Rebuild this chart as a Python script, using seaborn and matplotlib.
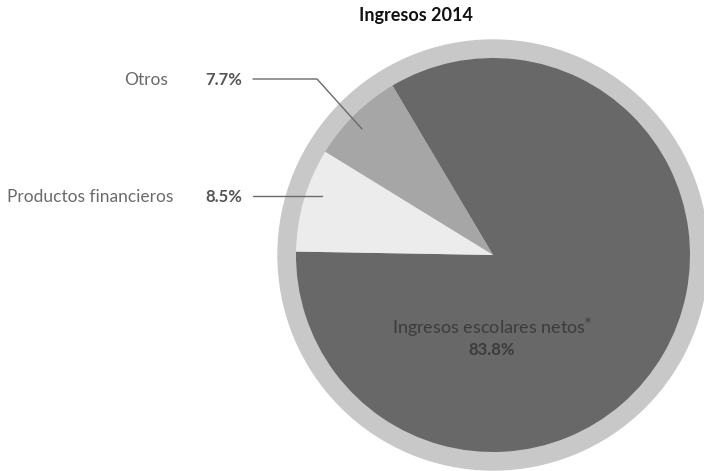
import matplotlib
matplotlib.use("Agg")
import matplotlib.pyplot as plt
import seaborn as sns
from matplotlib.patches import Circle

# datos
categorias = ["Ingresos escolares netos", "Otros", "Productos financieros"]
porcentajes = [83.8, 7.7, 8.5]
etiquetas_pct = ["83.8%", "7.7%", "8.5%"]
colores = ["#686868", "#a6a6a6", "#ececec"]
titulo = "Ingresos 2014"

sns.set_style("white")
plt.rcParams['font.family'] = ['Lato', 'DejaVu Sans']

W, H = 704, 471
fig = plt.figure(figsize=(W / 100, H / 100), dpi=100)
ax = fig.add_axes([0, 0, 1, 1])


def yy(y):
    # coordenadas de pantalla (y hacia abajo) -> ejes
    return H - y


cx, cy = 493, yy(255)

# anillo exterior
ax.add_patch(Circle((cx, cy), 215, color="#c8c8c8", zorder=0))

# pastel
ax.pie(porcentajes, colors=colores, startangle=179, counterclock=True,
       radius=197, center=(cx, cy), frame=True,
       wedgeprops=dict(linewidth=0))
ax.set_xlim(0, W)
ax.set_ylim(0, H)
ax.set_aspect('equal')
ax.axis('off')

# titulo
ax.text(416, yy(16), titulo, ha='center', va='center', fontsize=13,
        fontweight='bold', color='#111111')

# etiquetas exteriores
gris = '#6a6a6a'
ax.text(168, yy(80), categorias[1], ha='right', va='center', fontsize=12.5,
        fontweight='normal', color=gris)
ax.text(242, yy(80), etiquetas_pct[1], ha='right', va='center', fontsize=12,
        fontweight='bold', color='#555555')
ax.plot([253, 317, 362], [yy(79), yy(79), yy(129)], color=gris, lw=1)

ax.text(173, yy(197), categorias[2], ha='right', va='center', fontsize=12.5,
        fontweight='normal', color=gris)
ax.text(242, yy(197), etiquetas_pct[2], ha='right', va='center', fontsize=12,
        fontweight='bold', color='#555555')
ax.plot([253, 322], [yy(196), yy(196)], color=gris, lw=1)

# etiqueta central
ax.text(492, yy(327), categorias[0] + r"$^{*}$", ha='center', va='center',
        fontsize=13, fontweight='normal', color='#3c3c3c')
ax.text(492, yy(350), etiquetas_pct[0], ha='center', va='center',
        fontsize=12, fontweight='bold', color='#3c3c3c')

plt.savefig("out.png", dpi=100)
